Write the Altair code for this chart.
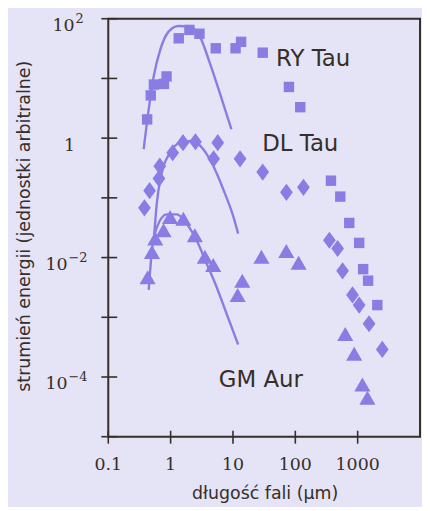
import altair as alt
import pandas as pd

# ---------------- data ----------------
# RY Tau (squares)
ry_x = [0.42, 0.48, 0.54, 0.78, 0.86, 1.35, 2.0, 2.9, 5.3, 11, 13.5, 30, 79, 120,
        373, 526, 733, 1057, 1224, 1470, 2066]
ry_y = [2.06, 5.2, 7.9, 8.1, 10.8, 47, 65, 56, 32, 32, 41, 27, 7.2, 3.3,
        0.194, 0.105, 0.038, 0.0176, 0.0064, 0.0041, 0.0016]

# DL Tau (diamonds)
dl_x = [0.38, 0.46, 0.65, 0.67, 1.08, 1.58, 2.5, 5.7, 4.9, 13, 30, 72, 135,
        352, 477, 573, 826, 1057, 1524, 2483]
dl_y = [0.068, 0.132, 0.21, 0.34, 0.57, 0.84, 0.87, 0.84, 0.45, 0.45, 0.27, 0.124, 0.15,
        0.0195, 0.0142, 0.0060, 0.00237, 0.0016, 0.00078, 0.00029]

# GM Aur (triangles)
gm_x = [0.428, 0.502, 0.567, 0.77, 0.98, 1.60, 2.45, 3.54, 4.82, 11.9, 14.1, 28.6,
        71.6, 113, 632, 879, 1191, 1432]
gm_y = [0.00467, 0.01245, 0.0208, 0.0286, 0.0476, 0.0448, 0.0236, 0.0103, 0.00748,
        0.00237, 0.0041, 0.0103, 0.0129, 0.00817, 0.000525, 0.000244, 7.5e-5, 4.5e-5]

# stellar photosphere curves
ry_curve_x = [0.370, 0.445, 0.535, 0.681, 0.927, 1.337, 2.045, 2.95, 4.26, 6.14, 9.44]
ry_curve_y = [0.653, 3.03, 10.8, 30.1, 60.8, 75.6, 73.6, 50.1, 18.0, 5.71, 1.41]
dl_curve_x = [0.535, 0.603, 0.724, 0.982, 1.416, 2.18, 3.34, 4.82, 6.95, 10.0, 12.1]
dl_curve_y = [0.0182, 0.0845, 0.267, 0.574, 0.841, 0.897, 0.653, 0.344, 0.141, 0.0507, 0.0252]
gm_curve_x = [0.445, 0.502, 0.603, 0.869, 1.255, 1.81, 2.61, 3.77, 5.44, 7.85, 12.1]
gm_curve_y = [0.00287, 0.0133, 0.0324, 0.053, 0.053, 0.0369, 0.0195, 0.00798, 0.00325,
              0.00117, 0.00035]

series_names = ["RY Tau", "DL Tau", "GM Aur"]

x_tick_values = [0.1, 1, 10, 100, 1000]
x_tick_labels = ["0.1", "1", "10", "100", "1000"]
y_tick_values = [1e2, 1e1, 1, 1e-1, 1e-2, 1e-3, 1e-4, 1e-5]
y_label_values = [1e2, 1, 1e-2, 1e-4]
y_label_base = ["10", "1", "10", "10"]
y_label_exp = ["2", "", "\u22122", "\u22124"]

x_title = "długość fali (μm)"
y_title = "strumień energii (jednostki arbitralne)"

# ---------------- styling ----------------
W, H = 314, 421
BG = "#e5e3f6"
PURPLE = "#897de4"
INK = "#352e29"
SANS = "DejaVu Sans"
SERIF = "DejaVu Serif"

xscale = alt.Scale(type="log", domain=[0.1, 10000], nice=False)
yscale = alt.Scale(type="log", domain=[1e-5, 100], nice=False)


def X(f="x"):
    return alt.X(f"{f}:Q", scale=xscale, axis=None)


def Y(f="y"):
    return alt.Y(f"{f}:Q", scale=yscale, axis=None)


layers = []

# curves
curves = pd.concat([
    pd.DataFrame({"x": ry_curve_x, "y": ry_curve_y, "s": series_names[0]}),
    pd.DataFrame({"x": dl_curve_x, "y": dl_curve_y, "s": series_names[1]}),
    pd.DataFrame({"x": gm_curve_x, "y": gm_curve_y, "s": series_names[2]}),
])
layers.append(
    alt.Chart(curves).mark_line(color=PURPLE, strokeWidth=2.4, interpolate="monotone")
    .encode(x=X(), y=Y(), detail="s:N", order="x:Q")
)

# points
diamond = "M-0.74,0L0,-1L0.74,0L0,1Z"
layers.append(
    alt.Chart(pd.DataFrame({"x": ry_x, "y": ry_y})).mark_point(
        shape="square", filled=True, size=110, color=PURPLE, opacity=1)
    .encode(x=X(), y=Y())
)
layers.append(
    alt.Chart(pd.DataFrame({"x": dl_x, "y": dl_y})).mark_point(
        shape=diamond, filled=True, size=300, color=PURPLE, opacity=1)
    .encode(x=X(), y=Y())
)
layers.append(
    alt.Chart(pd.DataFrame({"x": gm_x, "y": gm_y})).mark_point(
        shape="triangle-up", filled=True, size=265, color=PURPLE, opacity=1)
    .encode(x=X(), y=Y())
)

# ticks crossing the axes
layers.append(
    alt.Chart(pd.DataFrame({"v": y_tick_values})).mark_rule(color=INK, strokeWidth=1.6)
    .encode(y=Y("v"), x=alt.value(-7), x2=alt.value(9))
)
layers.append(
    alt.Chart(pd.DataFrame({"v": x_tick_values})).mark_rule(color=INK, strokeWidth=1.6)
    .encode(x=X("v"), y=alt.value(H - 6), y2=alt.value(H + 7))
)

# x tick labels
layers.append(
    alt.Chart(pd.DataFrame({"v": x_tick_values, "t": x_tick_labels})).mark_text(
        font=SERIF, fontSize=17.5, color=INK, align="center", baseline="alphabetic")
    .encode(x=X("v"), y=alt.value(H + 33.5), text="t:N")
)

# y tick labels (base + superscript exponent)
for v, b, e in zip(y_label_values, y_label_base, y_label_exp):
    d = pd.DataFrame({"v": [v], "b": [b], "e": [e]})
    if e:
        bx = -34 - 7 * (len(e) - 1)
        layers.append(
            alt.Chart(d).mark_text(font=SERIF, fontSize=17.5, color=INK, align="right",
                                   baseline="alphabetic", dy=12.5)
            .encode(y=Y("v"), x=alt.value(bx), text="b:N")
        )
        layers.append(
            alt.Chart(d).mark_text(font=SERIF, fontSize=13, color=INK, align="left",
                                   baseline="alphabetic", dy=4)
            .encode(y=Y("v"), x=alt.value(bx + 1), text="e:N")
        )
    else:
        layers.append(
            alt.Chart(d).mark_text(font=SERIF, fontSize=17.5, color=INK, align="center",
                                   baseline="alphabetic", dy=12.5)
            .encode(y=Y("v"), x=alt.value(-39), text="b:N")
        )

# series annotations
ann = [(series_names[0], 169, 48, "left"),
       (series_names[1], 155, 133, "left"),
       (series_names[2], 196, 371, "right")]
for t, ax, ay, al in ann:
    layers.append(
        alt.Chart(pd.DataFrame({"t": [t]})).mark_text(
            font=SANS, fontSize=23, color=INK, align=al, baseline="alphabetic")
        .encode(x=alt.value(ax), y=alt.value(ay), text="t:N")
    )

# axis titles
layers.append(
    alt.Chart(pd.DataFrame({"t": [x_title]})).mark_text(
        font=SANS, fontSize=17.5, color=INK, align="center", baseline="alphabetic")
    .encode(x=alt.value(158), y=alt.value(484), text="t:N")
)
layers.append(
    alt.Chart(pd.DataFrame({"t": [y_title]})).mark_text(
        font=SANS, fontSize=17.5, color=INK, align="center", baseline="alphabetic", angle=270)
    .encode(x=alt.value(-78.5), y=alt.value(209), text="t:N")
)

chart = alt.layer(*layers).properties(
    width=W, height=H,
    autosize=alt.AutoSizeParams(type="none"),
    padding={"left": 101, "top": 9, "right": 2, "bottom": 69},
    background=BG,
).configure_view(stroke=INK, strokeWidth=2, fill=BG)

chart.save("out.html", embed_options={"renderer": "svg", "actions": False})
